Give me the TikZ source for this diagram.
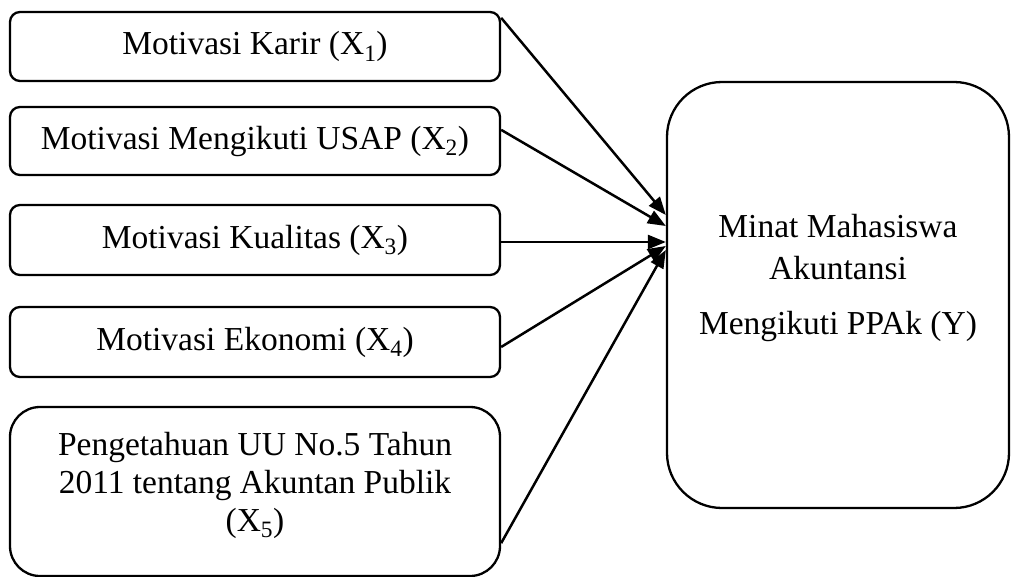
\documentclass[tikz,border=0pt]{standalone}
\usepackage{fontspec}
\setmainfont{Liberation Serif}
\usetikzlibrary{arrows.meta}
\begin{document}
\begin{tikzpicture}[x=1pt,y=1pt,
  txt/.style={font=\fontsize{33.5}{38}\selectfont, align=center},
  smallbox/.style={draw, line width=2.3pt, rounded corners=10pt, minimum width=490pt, inner sep=0pt, txt},
  bigbox/.style={draw, line width=2.3pt, rounded corners=55pt, minimum width=342pt, minimum height=426pt, inner sep=0pt},
  arr/.style={line width=2.5pt, -{Triangle[length=18pt,width=14pt]}}
]
\useasboundingbox (0,0) rectangle (1014,-577);
\node[smallbox, minimum height=69pt] (x1) at (255,-46.5) {Motivasi Karir (X\textsubscript{1})};
\node[smallbox, minimum height=68pt] (x2) at (255,-141) {Motivasi Mengikuti USAP (X\textsubscript{2})};
\node[smallbox, minimum height=70pt] (x3) at (255,-240) {Motivasi Kualitas (X\textsubscript{3})};
\node[smallbox, minimum height=70pt] (x4) at (255,-342) {Motivasi Ekonomi (X\textsubscript{4})};
\node[smallbox, rounded corners=30pt, minimum height=169pt] (x5) at (255,-491.5) {\raisebox{6pt}[\height][\depth]{\begin{tabular}{@{}c@{}}Pengetahuan UU No.5 Tahun\\2011 tentang Akuntan Publik\\(X\textsubscript{5})\end{tabular}}};
\node[bigbox] (y) at (838,-295) {};
\node[txt, font=\fontsize{33.5}{42}\selectfont] (ytext) at (838,-278) {Minat Mahasiswa\\Akuntansi\\[13pt]Mengikuti PPAk (Y)};
\draw[arr] ([yshift=-7pt]x1.north east) -- ([yshift=80pt]y.west);
\draw[arr] ([yshift=-24pt]x2.north east) -- ([yshift=69pt]y.west);
\draw[arr] ([yshift=-2pt]x3.east) -- ([yshift=53pt]y.west);
\draw[arr] ([yshift=-5pt]x4.east) -- ([yshift=49pt]y.west);
\draw[arr] ([yshift=34pt]x5.south east) -- ([yshift=45pt]y.west);
\end{tikzpicture}
\end{document}
